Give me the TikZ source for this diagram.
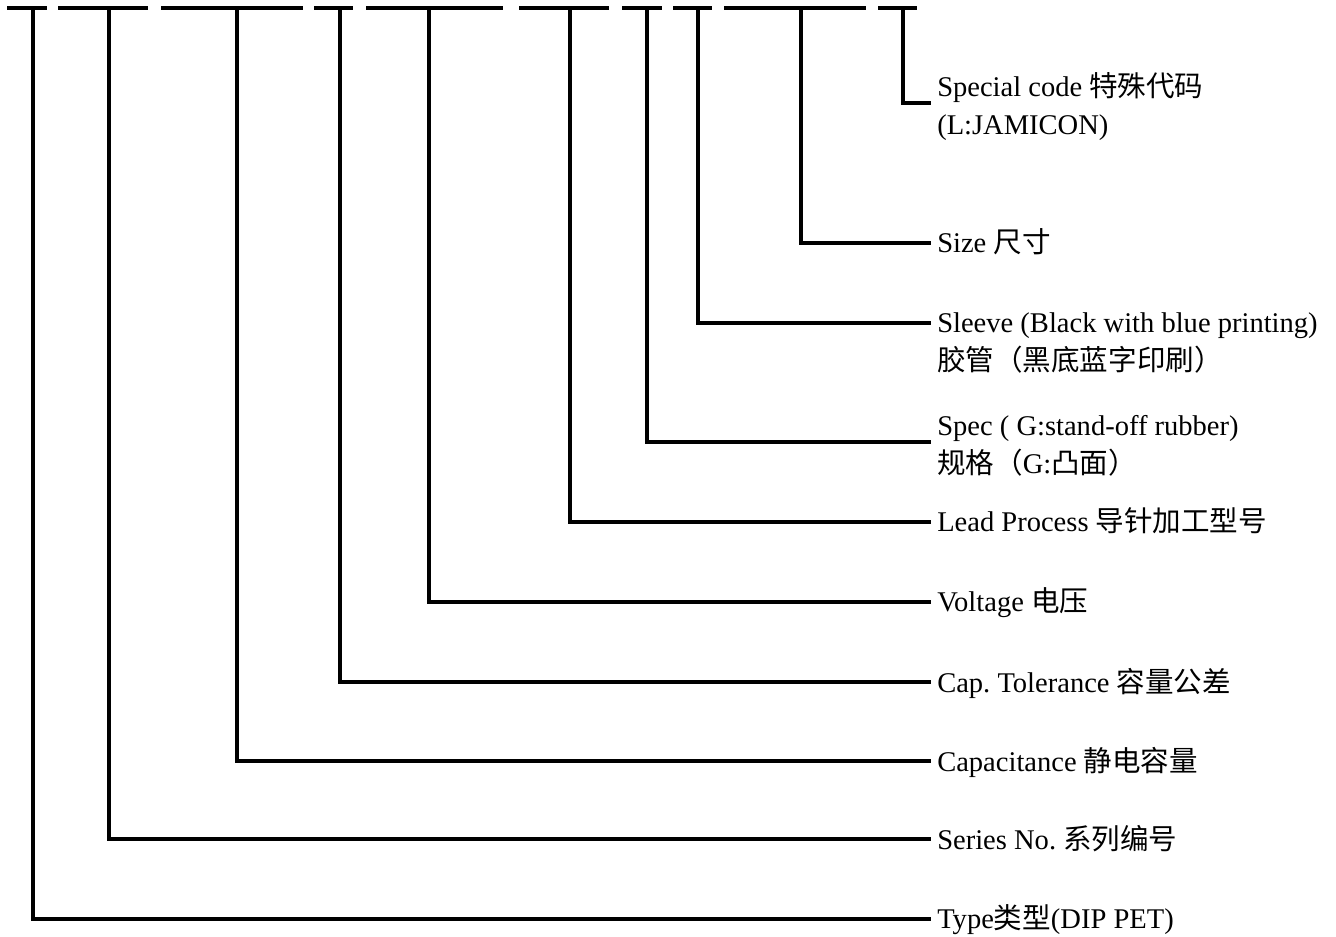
\documentclass[tikz,border=0pt]{standalone}
\usepackage{fontspec}
\setmainfont{Liberation Serif}
\newfontfamily\cjk{Noto Sans CJK SC}
\newcommand{\zhtext}[1]{{\cjk #1}}
\frenchspacing
\tikzset{
    partline/.style = {line width = 2.4pt},
    codelabel/.style = {anchor = base west, inner sep = 0pt, align = left,
        font = \fontsize{21.4pt}{28.5pt}\selectfont},
}

\begin{document}
\begin{tikzpicture}[x = 0.75pt, y = -0.75pt]%
    \useasboundingbox (0, 0) rectangle (1336, 937);
    \draw[partline] (7, 8) -- (47, 8) (58, 8) -- (148, 8) (161, 8) -- (303, 8) (314, 8) -- (353, 8) (366, 8) -- (503, 8);
    \draw[partline] (519, 8) -- (609, 8) (622, 8) -- (662, 8) (673, 8) -- (712, 8) (724, 8) -- (866, 8) (878, 8) -- (917, 8);
    \coordinate (type) at (33, 8);
    \coordinate (series) at (109, 8);
    \coordinate (cap) at (237, 8);
    \coordinate (tol) at (340, 8);
    \coordinate (volt) at (429, 8);
    \coordinate (lead) at (570, 8);
    \coordinate (spec) at (647, 8);
    \coordinate (sleeve) at (698, 8);
    \coordinate (size) at (801, 8);
    \coordinate (special) at (903, 8);
    \coordinate (type end) at (931, 919);
    \coordinate (series end) at (931, 839);
    \coordinate (cap end) at (931, 761);
    \coordinate (tol end) at (931, 682);
    \coordinate (volt end) at (931, 602);
    \coordinate (lead end) at (931, 522);
    \coordinate (spec end) at (931, 442);
    \coordinate (sleeve end) at (931, 323);
    \coordinate (size end) at (931, 243);
    \coordinate (special end) at (931, 103);
    \draw[partline] (type) |- (type end);
    \draw[partline] (series) |- (series end);
    \draw[partline] (cap) |- (cap end);
    \draw[partline] (tol) |- (tol end);
    \draw[partline] (volt) |- (volt end);
    \draw[partline] (lead) |- (lead end);
    \draw[partline] (spec) |- (spec end);
    \draw[partline] (sleeve) |- (sleeve end);
    \draw[partline] (size) |- (size end);
    \draw[partline] (special) |- (special end);
    \node[codelabel] (special text) at (937, 135) {Special code \zhtext{特殊代码}\\(L:JAMICON)};
    \node[codelabel] (size text) at (937, 253) {Size \zhtext{尺寸}};
    \node[codelabel] (sleeve text) at (937, 371) {Sleeve (Black with blue printing)\\\zhtext{胶管（黑底蓝字印刷）}};
    \node[codelabel] (spec text) at (937, 474) {Spec ( G:stand-off rubber)\\\zhtext{规格（}G:\zhtext{凸面）}};
    \node[codelabel] (lead text) at (937, 532) {Lead Process \zhtext{导针加工型号}};
    \node[codelabel] (volt text) at (937, 612) {Voltage \zhtext{电压}};
    \node[codelabel] (tol text) at (937, 692) {Cap. Tolerance \zhtext{容量公差}};
    \node[codelabel] (cap text) at (937, 771) {Capacitance \zhtext{静电容量}};
    \node[codelabel] (series text) at (937, 849) {Series No. \zhtext{系列编号}};
    \node[codelabel] (type text) at (937, 928) {Type\zhtext{类型}(DIP PET)};
\end{tikzpicture}
\end{document}
